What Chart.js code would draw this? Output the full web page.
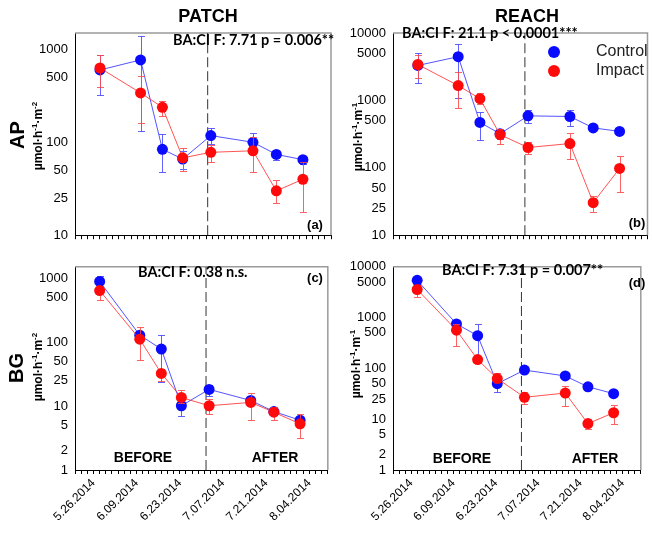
<!DOCTYPE html>
<html>
<head>
<meta charset="utf-8">
<title>AP and BG, patch vs reach</title>
<script src="https://cdn.jsdelivr.net/npm/chart.js@4.4.1/dist/chart.umd.min.js"></script>
<style>
  body { margin: 0; background: #fff; }
  #wrap { position: relative; width: 653px; height: 534px; overflow: hidden; background: #fff; }
  #wrap canvas { position: absolute; }
</style>
</head>
<body>
<div id="wrap">
  <canvas id="chartA" width="340" height="250" style="left:0;top:0"></canvas>
  <canvas id="chartB" width="320" height="250" style="left:333px;top:0"></canvas>
  <canvas id="chartC" width="340" height="282" style="left:0;top:252px"></canvas>
  <canvas id="chartD" width="320" height="282" style="left:333px;top:252px"></canvas>
</div>
<script>
// Sampling days, counted from 26 May 2014
const sampleDays = [2, 15, 22, 28.5, 37.5, 51, 58.5, 67];
const boundaryDay = 36.5;
const dateTickDays = [0, 14, 28, 42, 56, 70];
const dateTickLabels = ['5.26.2014', '6.09.2014', '6.23.2014', '7.07.2014', '7.21.2014', '8.04.2014'];
const seriesNames = ['Control', 'Impact'];

// (a) AP, patch
const apPatchControl = [600, 770, 84, 66, 118, 100, 74, 65];
const apPatchControlLow = [322, 131, 48, 52, 96, 81, 65, 59];
const apPatchControlHigh = [860, 1400, 123, 80, 142, 126, 83, 70];
const apPatchImpact = [630, 340, 238, 68, 78, 81, 30, 40];
const apPatchImpactLow = [394, 161, 194, 49, 61, 48, 22, 17.6];
const apPatchImpactHigh = [860, 514, 279, 86, 93, 115, 39, 62];

// (b) AP, reach
const apReachControl = [3300, 4450, 472, 320, 590, 577, 391, 347];
const apReachControlLow = [1790, 1100, 257, 271, 457, 418, 365, 325];
const apReachControlHigh = [5000, 6800, 675, 370, 711, 711, 420, 370];
const apReachImpact = [3410, 1660, 1062, 310, 200, 229, 30.4, 97.7];
const apReachImpactLow = [2120, 778, 889, 225, 161, 136, 22.2, 43.4];
const apReachImpactHigh = [4700, 2650, 1270, 378, 243, 327, 38, 151];

// (c) BG, patch
const bgPatchControl = [885, 128, 77.7, 10.1, 18.2, 12.2, 8.2, 6.0];
const bgPatchControlLow = [760, 114, 23.5, 7.07, 14.4, 11, 7.5, 5.5];
const bgPatchControlHigh = [1092, 141, 131, 11.7, 21.4, 13.5, 9, 6.6];
const bgPatchImpact = [638, 111, 32.3, 13.6, 10.1, 11.4, 8.0, 5.26];
const bgPatchImpactLow = [449, 52, 25, 11, 7.6, 6.1, 6.1, 3.15];
const bgPatchImpactHigh = [741, 172, 37.6, 17.6, 13.1, 16.2, 9.8, 7.5];

// (d) BG, reach
const bgReachControl = [5410, 752, 441, 50, 92.7, 71, 43.5, 31.8];
const bgReachControlLow = [4300, 660, 150, 34.8, 82, 64, 39, 28.5];
const bgReachControlHigh = [6380, 850, 752, 56, 104, 79, 48, 35];
const bgReachImpact = [3573, 566, 149, 63, 27, 32.7, 8.2, 13.4];
const bgReachImpactLow = [2570, 270, 133, 55, 20, 18, 6.4, 8.0];
const bgReachImpactHigh = [4200, 739, 167, 81, 34.2, 46, 10, 18.9];

// y tick values
const apPatchTicks = [10, 25, 50, 100, 500, 1000];
const apReachTicks = [10, 25, 50, 100, 500, 1000, 5000, 10000];
const bgPatchTicks = [1, 2, 5, 10, 25, 50, 100, 500, 1000];
const bgReachTicks = [1, 2, 5, 10, 25, 50, 100, 500, 1000, 5000, 10000];

const statTexts = [
  'BA:CI F: 7.71 p = 0.006**',
  'BA:CI F: 21.1 p < 0.0001***',
  'BA:CI F: 0.38 n.s.',
  'BA:CI F: 7.31 p = 0.007**'
];

const ARIAL = '"Liberation Sans", Arial, sans-serif';
const CALIBRI = 'Lato, "Liberation Sans", sans-serif';
const BLUE = '#0a0aff';
const RED = '#ff0a0a';

function toPoints(values) {
  return sampleDays.map((day, i) => ({ x: day, y: values[i] }));
}

function drawUnit(ctx, cx, cy, segs, size) {
  const big = `bold ${size}px ${ARIAL}`;
  const small = `bold ${Math.round(size * 0.68)}px ${ARIAL}`;
  ctx.save();
  ctx.translate(cx, cy);
  ctx.rotate(-Math.PI / 2);
  ctx.textAlign = 'left';
  ctx.textBaseline = 'middle';
  let total = 0;
  segs.forEach((s) => {
    ctx.font = s.sup ? small : big;
    total += ctx.measureText(s.text).width;
  });
  let x = -total / 2;
  segs.forEach((s) => {
    ctx.font = s.sup ? small : big;
    ctx.fillText(s.text, x, s.sup ? -size * 0.38 : 0);
    x += ctx.measureText(s.text).width;
  });
  ctx.restore();
}

function drawRotatedText(ctx, text, cx, cy, font) {
  ctx.save();
  ctx.translate(cx, cy);
  ctx.rotate(-Math.PI / 2);
  ctx.font = font;
  ctx.textAlign = 'center';
  ctx.textBaseline = 'middle';
  ctx.fillText(text, 0, 0);
  ctx.restore();
}

const errorBarPlugin = {
  id: 'errorBars',
  beforeDatasetDraw(chart, args) {
    const ds = chart.data.datasets[args.index];
    if (!ds.low) {
      return;
    }
    const xScale = chart.scales.x;
    const yScale = chart.scales.y;
    const ctx = chart.ctx;
    ctx.save();
    ctx.strokeStyle = ds.errColor;
    ctx.lineWidth = 1;
    ds.data.forEach((pt, i) => {
      const px = Math.round(xScale.getPixelForValue(pt.x)) + 0.5;
      const top = Math.round(yScale.getPixelForValue(ds.high[i])) + 0.5;
      const bot = Math.round(yScale.getPixelForValue(ds.low[i])) + 0.5;
      ctx.beginPath();
      ctx.moveTo(px, top);
      ctx.lineTo(px, bot);
      ctx.moveTo(px - 3.5, top);
      ctx.lineTo(px + 3.5, top);
      ctx.moveTo(px - 3.5, bot);
      ctx.lineTo(px + 3.5, bot);
      ctx.stroke();
    });
    ctx.restore();
  }
};

const framePlugin = {
  id: 'frame',
  beforeDatasetsDraw(chart) {
    const { left, top, right, bottom } = chart.chartArea;
    const ctx = chart.ctx;
    ctx.save();
    ctx.strokeStyle = '#9a9a9a';
    ctx.lineWidth = 1.5;
    ctx.beginPath();
    ctx.moveTo(left, top);
    ctx.lineTo(right, top);
    ctx.lineTo(right, bottom);
    ctx.stroke();
    ctx.restore();
  }
};

const overlayPlugin = {
  id: 'overlay',
  afterDraw(chart, args, opts) {
    const ctx = chart.ctx;
    ctx.save();
    ctx.fillStyle = '#000';
    if (opts.title) {
      ctx.font = `bold 18px ${ARIAL}`;
      ctx.textAlign = 'center';
      ctx.textBaseline = 'middle';
      ctx.fillText(opts.title, opts.titleX, opts.titleY);
    }
    if (opts.yName) {
      drawRotatedText(ctx, opts.yName, opts.yNameX, opts.yNameY, `bold 20px ${ARIAL}`);
    }
    drawUnit(ctx, opts.unitX, opts.unitY, opts.unit, 12);

    ctx.font = `bold 14.5px ${CALIBRI}`;
    ctx.textAlign = 'left';
    ctx.textBaseline = 'middle';
    ctx.fillText(opts.stat, opts.statX, opts.statY);

    ctx.font = `bold 13px ${ARIAL}`;
    ctx.textAlign = 'center';
    ctx.fillText(opts.letter, opts.letterX, opts.letterY);

    if (opts.periods) {
      ctx.font = `bold 14px ${ARIAL}`;
      ctx.fillText('BEFORE', opts.beforeX, opts.periodY);
      ctx.fillText('AFTER', opts.afterX, opts.periodY);
    }

    if (opts.legend) {
      seriesNames.forEach((name, i) => {
        const d = chart.data.datasets.find((ds) => ds.label === name);
        const y = opts.legendY + i * 19;
        ctx.fillStyle = d.pointBackgroundColor;
        ctx.beginPath();
        ctx.arc(opts.legendX, y, 6, 0, Math.PI * 2);
        ctx.fill();
        ctx.fillStyle = '#222';
        ctx.font = `16px ${ARIAL}`;
        ctx.textAlign = 'left';
        ctx.fillText(name, opts.legendX + 42, y);
      });
    }
    ctx.restore();
  }
};

function makePanel(p) {
  const datasets = [
    {
      label: seriesNames[1],
      data: toPoints(p.impact),
      low: p.impactLow,
      high: p.impactHigh,
      errColor: 'rgba(255, 70, 70, 0.85)',
      borderColor: 'rgba(255, 40, 40, 0.8)',
      borderWidth: 1,
      pointBackgroundColor: RED,
      pointBorderColor: RED,
      pointRadius: 5.5,
      pointBorderWidth: 0,
      order: 0
    },
    {
      label: seriesNames[0],
      data: toPoints(p.control),
      low: p.controlLow,
      high: p.controlHigh,
      errColor: 'rgba(70, 70, 255, 0.85)',
      borderColor: 'rgba(40, 40, 255, 0.8)',
      borderWidth: 1,
      pointBackgroundColor: BLUE,
      pointBorderColor: BLUE,
      pointRadius: 5.5,
      pointBorderWidth: 0,
      order: 1
    },
    {
      label: 'boundary',
      data: [{ x: boundaryDay, y: p.yMin }, { x: boundaryDay, y: p.yMax }],
      borderColor: '#333',
      borderWidth: 1,
      borderDash: [10, 4],
      pointRadius: 0,
      order: 2
    }
  ];

  return new Chart(document.getElementById(p.canvas), {
    type: 'line',
    data: { datasets },
    options: {
      responsive: false,
      animation: false,
      events: [],
      layout: { padding: { top: p.padTop, right: p.padRight, left: 0, bottom: 0 } },
      scales: {
        x: {
          type: 'linear',
          min: -6,
          max: 76,
          grid: { display: true, drawOnChartArea: false, drawTicks: true, tickLength: 4, color: '#000' },
          border: { display: true, color: '#000', width: 1 },
          ticks: {
            display: p.showDates,
            stepSize: 2,
            autoSkip: false,
            minRotation: 45,
            maxRotation: 45,
            padding: 2,
            color: '#000',
            font: { family: ARIAL, size: 12 },
            callback: (value) => {
              const idx = dateTickDays.indexOf(value);
              return idx >= 0 ? dateTickLabels[idx] : '';
            }
          },
          afterFit: (scale) => { scale.height = p.xAxisHeight; }
        },
        y: {
          type: 'logarithmic',
          min: p.yMin,
          max: p.yMax,
          grid: { display: false, drawTicks: false },
          border: { display: true, color: '#000', width: 1 },
          ticks: {
            autoSkip: false,
            padding: 7,
            color: '#000',
            font: { family: ARIAL, size: 13 },
            callback: (value) => String(value)
          },
          afterBuildTicks: (scale) => {
            scale.ticks = p.ticks.map((v) => ({ value: v }));
          },
          afterFit: (scale) => { scale.width = p.yAxisWidth; }
        }
      },
      plugins: {
        legend: { display: false },
        tooltip: { enabled: false },
        overlay: p.overlay
      }
    },
    plugins: [framePlugin, errorBarPlugin, overlayPlugin]
  });
}

const unitPatch = [{ text: 'µmol·h' }, { text: '-1', sup: true }, { text: '·m' }, { text: '-2', sup: true }];
const unitReach = [{ text: 'µmol·h' }, { text: '-1', sup: true }, { text: '·m' }, { text: '-1', sup: true }];

makePanel({
  canvas: 'chartA', ticks: apPatchTicks, yMin: 10, yMax: 1500,
  control: apPatchControl, controlLow: apPatchControlLow, controlHigh: apPatchControlHigh,
  impact: apPatchImpact, impactLow: apPatchImpactLow, impactHigh: apPatchImpactHigh,
  showDates: false, yAxisWidth: 75, xAxisHeight: 9, padTop: 33, padRight: 9,
  overlay: {
    title: 'PATCH', titleX: 208, titleY: 17,
    yName: 'AP', yNameX: 18, yNameY: 135,
    unit: unitPatch, unitX: 39, unitY: 136,
    stat: statTexts[0], statX: 173, statY: 40,
    letter: '(a)', letterX: 315, letterY: 225
  }
});

makePanel({
  canvas: 'chartB', ticks: apReachTicks, yMin: 10, yMax: 10000,
  control: apReachControl, controlLow: apReachControlLow, controlHigh: apReachControlHigh,
  impact: apReachImpact, impactLow: apReachImpactLow, impactHigh: apReachImpactHigh,
  showDates: false, yAxisWidth: 60, xAxisHeight: 9, padTop: 33, padRight: 1,
  overlay: {
    title: 'REACH', titleX: 194, titleY: 17,
    unit: unitReach, unitX: 26, unitY: 137,
    stat: statTexts[1], statX: 69, statY: 33,
    letter: '(b)', letterX: 304, letterY: 223,
    legend: true, legendX: 221, legendY: 52
  }
});

makePanel({
  canvas: 'chartC', ticks: bgPatchTicks, yMin: 1, yMax: 1500,
  control: bgPatchControl, controlLow: bgPatchControlLow, controlHigh: bgPatchControlHigh,
  impact: bgPatchImpact, impactLow: bgPatchImpactLow, impactHigh: bgPatchImpactHigh,
  showDates: true, yAxisWidth: 75, xAxisHeight: 64, padTop: 11, padRight: 9,
  overlay: {
    yName: 'BG', yNameX: 17, yNameY: 116,
    unit: unitPatch, unitX: 39, unitY: 115,
    stat: statTexts[2], statX: 138, statY: 20,
    letter: '(c)', letterX: 315, letterY: 26,
    periods: true, beforeX: 143, afterX: 275, periodY: 206
  }
});

makePanel({
  canvas: 'chartD', ticks: bgReachTicks, yMin: 1, yMax: 10000,
  control: bgReachControl, controlLow: bgReachControlLow, controlHigh: bgReachControlHigh,
  impact: bgReachImpact, impactLow: bgReachImpactLow, impactHigh: bgReachImpactHigh,
  showDates: true, yAxisWidth: 60, xAxisHeight: 64, padTop: 11, padRight: 1,
  overlay: {
    unit: unitReach, unitX: 24, unitY: 112,
    stat: statTexts[3], statX: 109, statY: 18,
    letter: '(d)', letterX: 304, letterY: 31,
    periods: true, beforeX: 129, afterX: 262, periodY: 207
  }
});
</script>
</body>
</html>
